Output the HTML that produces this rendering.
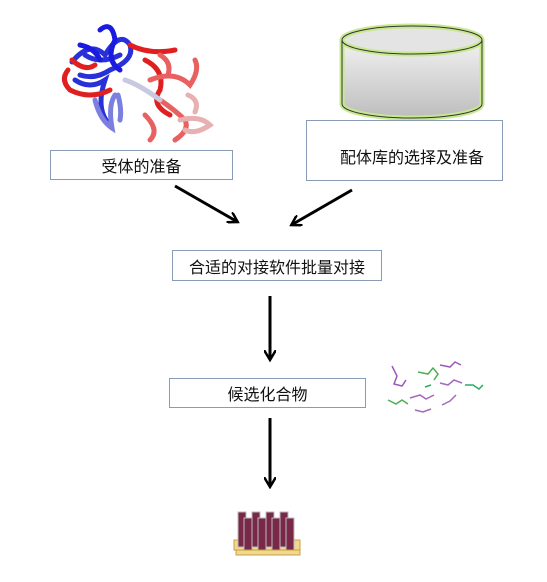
<!DOCTYPE html>
<html><head><meta charset="utf-8"><style>
body{margin:0;width:547px;height:582px;background:#fff;overflow:hidden;position:relative;font-family:"Liberation Sans","Noto Sans CJK SC",sans-serif}
.b{position:absolute;border:1.5px solid #8a9bb5;background:#fff;box-sizing:border-box;font-size:16px;color:#111;display:flex;align-items:center;justify-content:center}
</style></head><body>
<svg width="547" height="582" style="position:absolute;left:0;top:0">
<defs>
<linearGradient id="g" x1="0" y1="0" x2="0" y2="1"><stop offset="0" stop-color="#f2f2f2"/><stop offset="1" stop-color="#bdbdbd"/></linearGradient>
<marker id="a" markerWidth="12" markerHeight="12" refX="8" refY="6" orient="auto" markerUnits="userSpaceOnUse"><path d="M0,0 L10,6 L0,12" fill="none" stroke="#000" stroke-width="2.5"/></marker>
</defs>
<!-- protein -->
<g fill="none" stroke-width="5" stroke-linecap="round">
<path d="M72,62 Q90,40 105,55 Q120,30 130,45 Q135,60 110,70 Q95,80 80,75 M75,80 Q90,90 105,80 Q95,110 110,125 M85,55 Q100,65 120,55" stroke="#2830d8"/>
<path d="M100,30 Q112,20 115,40 Q105,60 120,70 M80,45 Q95,48 100,60" stroke="#1a1ae0"/>
<path d="M95,100 Q100,120 112,128 Q108,105 115,95 M118,95 Q122,110 120,120" stroke="#7b80e0"/>
<path d="M68,70 Q60,80 70,90 Q90,100 110,90 M130,45 Q150,55 175,50 M145,60 Q165,70 160,90 Q150,105 170,115 M72,60 Q85,72 95,65" stroke="#e02020"/>
<path d="M150,80 Q175,70 190,85 Q200,70 195,60 M160,100 Q175,110 185,120 Q190,130 175,140 M145,115 Q160,130 150,140 M160,55 Q172,62 168,75" stroke="#e86060"/>
<path d="M180,120 Q200,115 210,125 Q195,135 185,130 M188,95 Q200,100 195,112" stroke="#e8b0b0"/>
<path d="M125,80 Q140,85 160,100" stroke="#c8c8e0"/>
</g>
<!-- cylinder -->
<path d="M342,40 L342,104 A70,14 0 0 0 482,104 L482,40" fill="url(#g)" stroke="#c8e890" stroke-width="5"/>
<ellipse cx="412" cy="40" rx="70" ry="14" fill="#e4e4e4" stroke="#c8e890" stroke-width="5"/>
<path d="M342,40 L342,104 A70,14 0 0 0 482,104 L482,40" fill="none" stroke="#333" stroke-width="1"/>
<ellipse cx="412" cy="40" rx="70" ry="14" fill="none" stroke="#333" stroke-width="1"/>
<!-- arrows -->
<g stroke="#000" stroke-width="3" marker-end="url(#a)">
<line x1="175" y1="186" x2="236" y2="221"/>
<line x1="352" y1="190" x2="293" y2="224"/>
<line x1="270" y1="296" x2="270" y2="358"/>
<line x1="270" y1="418" x2="270" y2="485"/>
</g>
<!-- molecules -->
<g fill="none" stroke-width="1.5">
<path d="M392,366 l5,10 l-3,8 l8,2 l4,-6 M440,365 l10,2 l5,-5 l6,3" stroke="#9b59b6"/>
<path d="M418,372 l10,2 l5,-6 l5,6 l-4,6 M388,400 l8,4 l6,-4 l6,4" stroke="#4caf50"/>
<path d="M440,383 l8,2 l6,-5 l8,3 M410,398 l10,-3 l6,4 l8,-4 M415,410 l8,2 l8,-3 M442,405 l8,-4 l6,-6" stroke="#a569bd"/>
<path d="M465,385 l8,0 l6,4 l4,-4 M425,387 l6,-2" stroke="#27ae60"/>
</g>
<!-- test tubes -->
<g>
<rect x="234" y="540" width="66" height="10" fill="#f0d890" stroke="#c8a040"/>
<g fill="#7a2848" stroke="#bbb" stroke-width="1">
<rect x="238" y="512" width="8" height="35"/><rect x="252" y="512" width="8" height="35"/><rect x="266" y="512" width="8" height="35"/><rect x="280" y="512" width="8" height="35"/>
<rect x="244" y="518" width="8" height="35"/><rect x="258" y="518" width="8" height="35"/><rect x="272" y="518" width="8" height="35"/><rect x="286" y="518" width="8" height="35"/>
</g>
<rect x="236" y="550" width="64" height="5" fill="#f0d890" stroke="#c8a040"/>
</g>
</svg>
<div class="b" style="left:50px;top:150px;width:183px;height:30px">受体的准备</div>
<div class="b" style="left:306px;top:120px;width:197px;height:61px;padding-left:15px;padding-top:10px">配体库的选择及准备</div>
<div class="b" style="left:172px;top:250px;width:210px;height:31px">合适的对接软件批量对接</div>
<div class="b" style="left:169px;top:378px;width:197px;height:30px">候选化合物</div>
</body></html>
